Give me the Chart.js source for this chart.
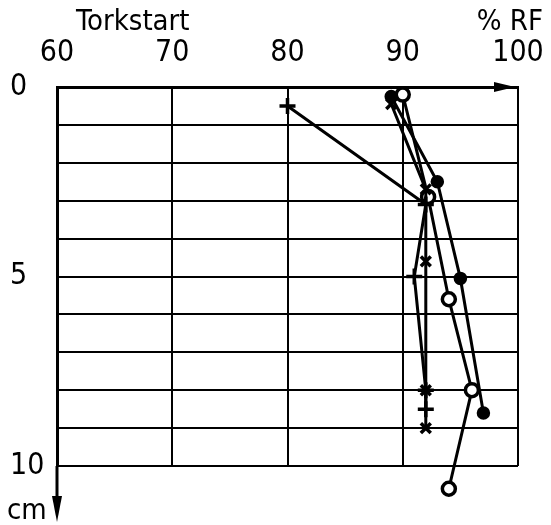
<!DOCTYPE html>
<html>
<head>
<meta charset="utf-8">
<script src="https://cdn.jsdelivr.net/npm/chart.js@4/dist/chart.umd.min.js"></script>
<style>
html, body { margin: 0; padding: 0; background: #fff; }
#wrap { width: 551px; height: 525px; }
</style>
</head>
<body>
<div id="wrap"><canvas id="chart"></canvas></div>
<script>
// tick labels
const rfTicks = [60, 70, 80, 90, 100]
const depthLabels = [0, 5, 10]

// series: relative humidity (% RF) vs depth (cm)
const plusRF = [80, 92, 91, 92, 92]
const plusDepth = [0.5, 3.1, 5.0, 8.0, 8.5]

const crossRF = [89, 92, 92, 92, 92]
const crossDepth = [0.45, 2.7, 4.6, 8.0, 9.0]

const dotRF = [89, 93, 95, 97]
const dotDepth = [0.25, 2.5, 5.05, 8.6]

const ringRF = [90, 92.2, 94, 96, 94]
const ringDepth = [0.2, 2.9, 5.6, 8.0, 10.6]

const FONT = "'DejaVu Sans Condensed', 'Liberation Sans', sans-serif"

function pts(xs, ys) {
    return xs.map((x, i) => ({x: x, y: ys[i]}))
}

function serie(xs, ys, style, radius, fill) {
    return {
        data: pts(xs, ys),
        showLine: true,
        borderColor: '#000',
        borderWidth: 3,
        pointStyle: style,
        pointRadius: radius,
        pointBorderWidth: 3.5,
        pointBorderColor: '#000',
        pointBackgroundColor: fill,
        clip: false
    }
}

let savedBottom = 0

// let points below the last grid line (10 cm) still be drawn
const overflow = {
    id: 'overflow',
    beforeDatasetsDraw: (chart) => {
        savedBottom = chart.chartArea.bottom
        chart.chartArea.bottom = savedBottom + 40
    },
    afterDatasetsDraw: (chart) => {
        chart.chartArea.bottom = savedBottom
    }
}

// arrows, titles and units
const extras = {
    id: 'extras',
    afterDraw: (chart) => {
        const ctx = chart.ctx
        const a = chart.chartArea
        ctx.save()
        ctx.fillStyle = '#000'
        ctx.strokeStyle = '#000'

        // x arrow head on top axis
        ctx.beginPath()
        ctx.moveTo(a.right - 24, a.top - 5)
        ctx.lineTo(a.right - 3, a.top)
        ctx.lineTo(a.right - 24, a.top + 5)
        ctx.closePath()
        ctx.fill()

        // y axis extension with arrow
        ctx.lineWidth = 3
        ctx.beginPath()
        ctx.moveTo(a.left, a.bottom)
        ctx.lineTo(a.left, a.bottom + 40)
        ctx.stroke()
        ctx.beginPath()
        ctx.moveTo(a.left - 5, a.bottom + 30)
        ctx.lineTo(a.left + 5, a.bottom + 30)
        ctx.lineTo(a.left, a.bottom + 56)
        ctx.closePath()
        ctx.fill()

        ctx.font = '29px ' + FONT
        ctx.textBaseline = 'middle'
        ctx.textAlign = 'left'
        ctx.fillText('Torkstart', 76, 22)
        ctx.fillText('cm', 7, 511)
        ctx.textAlign = 'right'
        ctx.fillText('% RF', 543, 22)
        ctx.restore()
    }
}

new Chart(document.getElementById('chart'), {
    type: 'scatter',
    data: {
        datasets: [
            serie(plusRF, plusDepth, 'cross', 8, '#000'),
            serie(crossRF, crossDepth, 'crossRot', 7, '#000'),
            serie(dotRF, dotDepth, 'circle', 5, '#000'),
            serie(ringRF, ringDepth, 'circle', 6.5, '#fff')
        ]
    },
    options: {
        responsive: true,
        maintainAspectRatio: false,
        animation: false,
        layout: {padding: {left: 10, top: 0, right: 33, bottom: 59}},
        plugins: {legend: {display: false}, tooltip: {enabled: false}},
        scales: {
            x: {
                type: 'linear',
                position: 'top',
                min: 60,
                max: 100,
                afterBuildTicks: (s) => { s.ticks = rfTicks.map(v => ({value: v})) },
                afterFit: (s) => { s.height = 87; s.paddingLeft = 0; s.paddingRight = 0 },
                ticks: {color: '#000', padding: 16, autoSkip: false, maxRotation: 0, font: {family: FONT, size: 30}},
                grid: {color: '#000', lineWidth: 2, drawTicks: false},
                border: {color: '#000', width: 3}
            },
            y: {
                type: 'linear',
                reverse: true,
                min: 0,
                max: 10,
                afterFit: (s) => { s.width = 47; s.paddingTop = 0; s.paddingBottom = 0 },
                ticks: {
                    stepSize: 1,
                    autoSkip: false,
                    color: '#000',
                    padding: 20,
                    crossAlign: 'far',
                    font: {family: FONT, size: 30},
                    callback: (v) => depthLabels.includes(v) ? v : ''
                },
                grid: {color: '#000', lineWidth: 2, drawTicks: false},
                border: {color: '#000', width: 3}
            }
        }
    },
    plugins: [overflow, extras]
})
</script>
</body>
</html>
